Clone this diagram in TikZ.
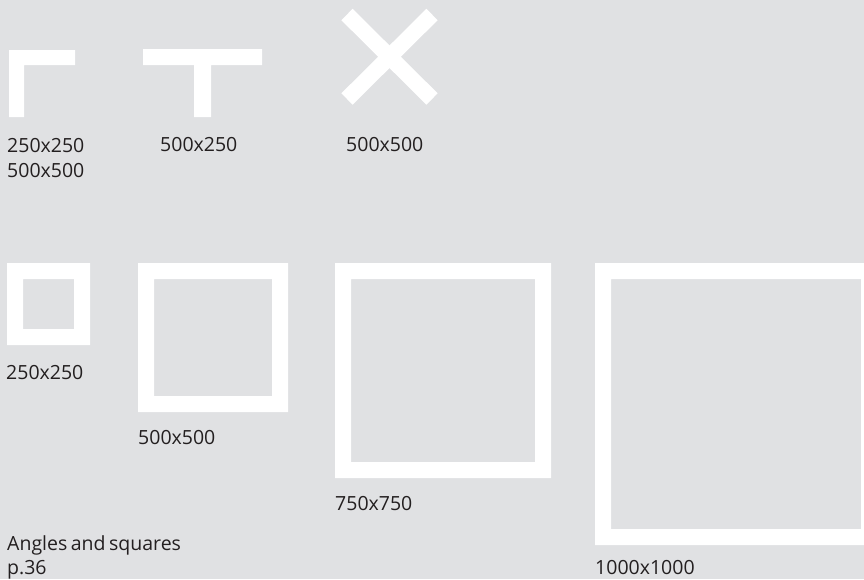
\documentclass[tikz,border=0pt]{standalone}
\usepackage{fontspec}
\setmainfont{Open Sans}
\definecolor{bg}{HTML}{E0E1E3}
\definecolor{ink}{HTML}{231F20}
\begin{document}
\begin{tikzpicture}[x=1pt,y=-1pt,
  lbl/.style={anchor=base west,inner sep=0pt,text=ink,font=\fontsize{19.5}{24}\selectfont},
  frame/.style={fill=white,even odd rule,draw=none}]
\fill[bg] (0,0) rectangle (864,579);
\useasboundingbox (0,0) rectangle (864,579);
% angle
\fill[white] (9,50) -- (75,50) -- (75,65) -- (24,65) -- (24,117) -- (9,117) -- cycle;
% T
\fill[white] (143,49) -- (262,49) -- (262,65) -- (211,65) -- (211,117) -- (194,117) -- (194,65) -- (143,65) -- cycle;
% X
\draw[white,line width=16pt,line cap=butt] (347,14.5) -- (432,99);
\draw[white,line width=16pt,line cap=butt] (347,99) -- (432,14.5);
% squares
\path[frame] (7,263) rectangle (90,345) (23,279) rectangle (74,329);
\path[frame] (138,263) rectangle (288,412) (154,279) rectangle (272,396);
\path[frame] (335,263) rectangle (551,478) (351,279) rectangle (535,462);
\path[frame] (595,263) rectangle (877,545) (611,279) rectangle (861,529);
% labels
\node[lbl] (l1) at (7,152) {250x250};
\node[lbl] (l2) at (7,177) {500x500};
\node[lbl] (l3) at (160,151) {500x250};
\node[lbl] (l4) at (346,151) {500x500};
\node[lbl] (l5) at (6,379) {250x250};
\node[lbl] (l6) at (138,444) {500x500};
\node[lbl] (l7) at (335,510) {750x750};
\node[lbl] (l8) at (595,574) {1000x1000};
\node[lbl] (t1) at (7,550) {\spaceskip=0.18em Angles and squares};
\node[lbl] (t2) at (7,574) {p.36};
\end{tikzpicture}
\end{document}
